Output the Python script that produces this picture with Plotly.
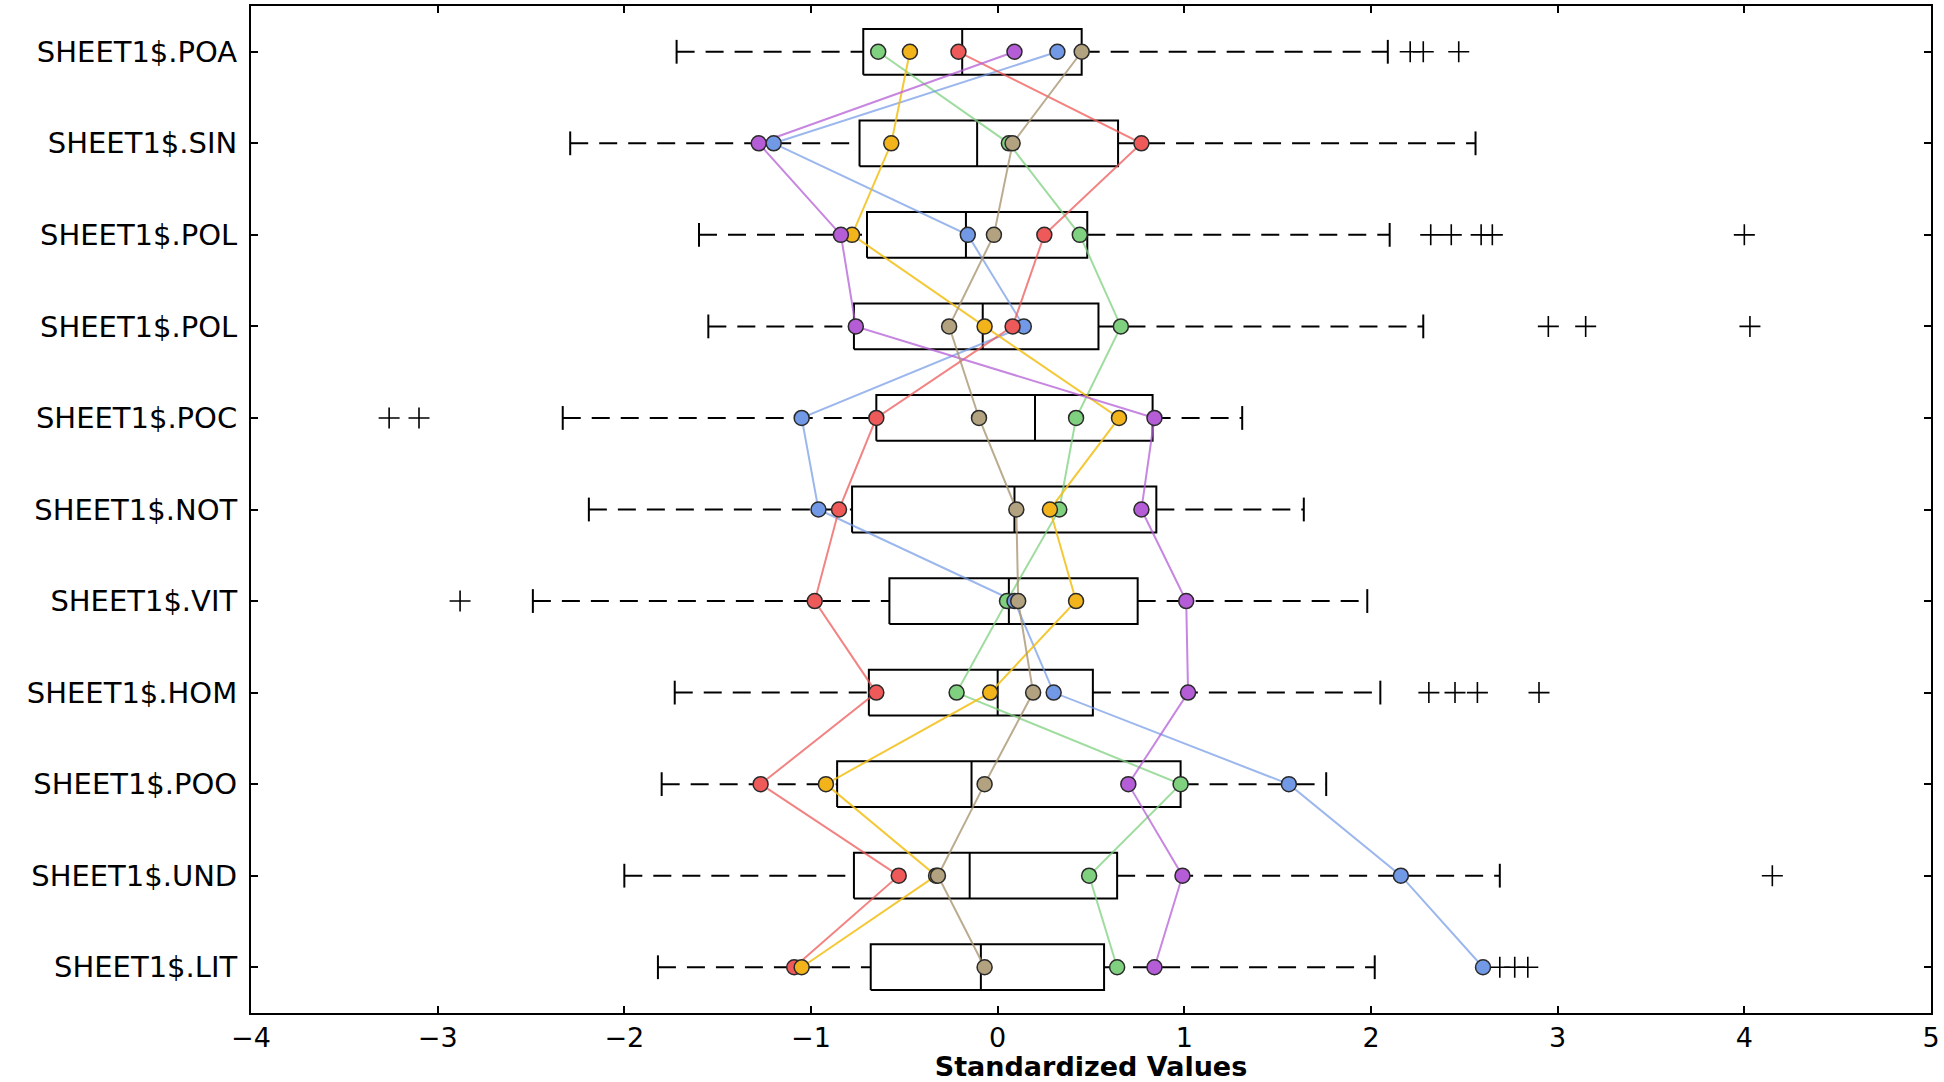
import plotly.graph_objects as go

categories = ["SHEET1$.POA", "SHEET1$.SIN", "SHEET1$.POL", "SHEET1$.POL", "SHEET1$.POC",
              "SHEET1$.NOT", "SHEET1$.VIT", "SHEET1$.HOM", "SHEET1$.POO", "SHEET1$.UND",
              "SHEET1$.LIT"]

# box statistics (standardized values)
whisker_low = [-1.72, -2.29, -1.60, -1.55, -2.33, -2.19, -2.49, -1.73, -1.80, -2.00, -1.82]
q1 = [-0.72, -0.74, -0.70, -0.77, -0.65, -0.78, -0.58, -0.69, -0.86, -0.77, -0.68]
median = [-0.19, -0.11, -0.17, -0.08, 0.20, 0.09, 0.06, 0.00, -0.14, -0.15, -0.09]
q3 = [0.45, 0.645, 0.48, 0.54, 0.83, 0.85, 0.75, 0.51, 0.98, 0.64, 0.57]
whisker_high = [2.09, 2.56, 2.10, 2.28, 1.31, 1.64, 1.98, 2.05, 1.76, 2.69, 2.02]

# outliers per category (index into categories)
outlier_cat = [0, 0, 0, 2, 2, 2, 2, 2, 3, 3, 3, 4, 4, 6, 7, 7, 7, 7, 9, 10, 10, 10]
outlier_val = [2.21, 2.28, 2.47, 2.32, 2.43, 2.59, 2.65, 4.00, 2.95, 3.15, 4.03,
               -3.26, -3.10, -2.88, 2.31, 2.45, 2.57, 2.90, 4.15, 2.69, 2.77, 2.84]

# highlighted profiles
series_red = [-0.21, 0.77, 0.25, 0.08, -0.65, -0.85, -0.98, -0.65, -1.27, -0.53, -1.09]
series_orange = [-0.47, -0.57, -0.78, -0.07, 0.65, 0.28, 0.42, -0.04, -0.92, -0.33, -1.05]
series_green = [-0.64, 0.06, 0.44, 0.66, 0.42, 0.33, 0.05, -0.22, 0.98, 0.49, 0.64]
series_blue = [0.32, -1.20, -0.16, 0.14, -1.05, -0.96, 0.09, 0.30, 1.56, 2.16, 2.60]
series_purple = [0.09, -1.28, -0.84, -0.76, 0.84, 0.77, 1.01, 1.02, 0.70, 0.99, 0.84]
series_tan = [0.45, 0.08, -0.02, -0.26, -0.10, 0.10, 0.11, 0.19, -0.07, -0.32, -0.07]

series = [
    ("green", series_green, "#7fd07f", "rgba(127,208,127,0.75)"),
    ("blue", series_blue, "#7199e6", "rgba(113,153,230,0.7)"),
    ("red", series_red, "#ee5a5a", "rgba(238,90,90,0.75)"),
    ("orange", series_orange, "#f2b31b", "rgba(242,190,20,0.85)"),
    ("purple", series_purple, "#b45dd6", "rgba(180,93,214,0.75)"),
    ("tan", series_tan, "#b3a27f", "rgba(170,150,115,0.8)"),
]

n = len(categories)
ypos = [n - i for i in range(n)]
H = 0.25   # half box height
C = 0.13   # half cap height

fig = go.Figure()

# whiskers (dashed)
wx, wy = [], []
for i in range(n):
    wx += [whisker_low[i], q1[i], None, q3[i], whisker_high[i], None]
    wy += [ypos[i], ypos[i], None, ypos[i], ypos[i], None]
fig.add_trace(go.Scatter(x=wx, y=wy, mode="lines", hoverinfo="skip",
                         line=dict(color="black", width=2, dash="18px,11px")))

# caps
cx, cy = [], []
for i in range(n):
    cx += [whisker_low[i], whisker_low[i], None, whisker_high[i], whisker_high[i], None]
    cy += [ypos[i] - C, ypos[i] + C, None, ypos[i] - C, ypos[i] + C, None]
fig.add_trace(go.Scatter(x=cx, y=cy, mode="lines", hoverinfo="skip",
                         line=dict(color="black", width=2)))

# boxes and medians
bx, by = [], []
for i in range(n):
    bx += [q1[i], q3[i], q3[i], q1[i], q1[i], None, median[i], median[i], None]
    by += [ypos[i] - H, ypos[i] - H, ypos[i] + H, ypos[i] + H, ypos[i] - H, None,
           ypos[i] - H, ypos[i] + H, None]
fig.add_trace(go.Scatter(x=bx, y=by, mode="lines", hoverinfo="skip",
                         line=dict(color="black", width=2)))

# outliers
fig.add_trace(go.Scatter(x=outlier_val, y=[ypos[c] for c in outlier_cat], mode="markers",
                         marker=dict(symbol="cross-thin", size=15,
                                     line=dict(color="black", width=1.6)),
                         hoverinfo="skip"))

# profile lines
for name, vals, col, lcol in series:
    fig.add_trace(go.Scatter(x=vals, y=ypos, mode="lines", name=name,
                             line=dict(color=lcol, width=2)))
# profile markers
for name, vals, col, lcol in series:
    fig.add_trace(go.Scatter(x=vals, y=ypos, mode="markers", name=name,
                             marker=dict(color=col, size=15,
                                         line=dict(color="#2a2a2a", width=1.5))))

fig.update_layout(
    width=1944, height=1082,
    margin=dict(l=251, r=11, t=4, b=65),
    paper_bgcolor="white", plot_bgcolor="white",
    showlegend=False,
    font=dict(family="DejaVu Sans", size=28, color="black"),
)
fig.update_xaxes(
    range=[-4, 5], tickvals=[-4, -3, -2, -1, 0, 1, 2, 3, 4, 5],
    showgrid=False, zeroline=False,
    showline=True, linecolor="black", linewidth=2, mirror="allticks",
    ticks="inside", ticklen=7, tickwidth=1.5, tickcolor="black",
    tickfont=dict(size=27),
    title=dict(text="<b>Standardized Values</b>", font=dict(size=27), standoff=6),
)
fig.update_yaxes(
    range=[0.5, n + 0.5], tickvals=ypos, ticktext=categories,
    showgrid=False, zeroline=False,
    showline=True, linecolor="black", linewidth=2, mirror="allticks",
    ticks="inside", ticklen=7, tickwidth=1.5, tickcolor="black",
    tickfont=dict(size=29), ticklabelstandoff=6,
)

fig.write_html("out.html", config={"displayModeBar": False},
               post_script="document.body.style.margin='0';document.body.style.overflow='hidden';")
